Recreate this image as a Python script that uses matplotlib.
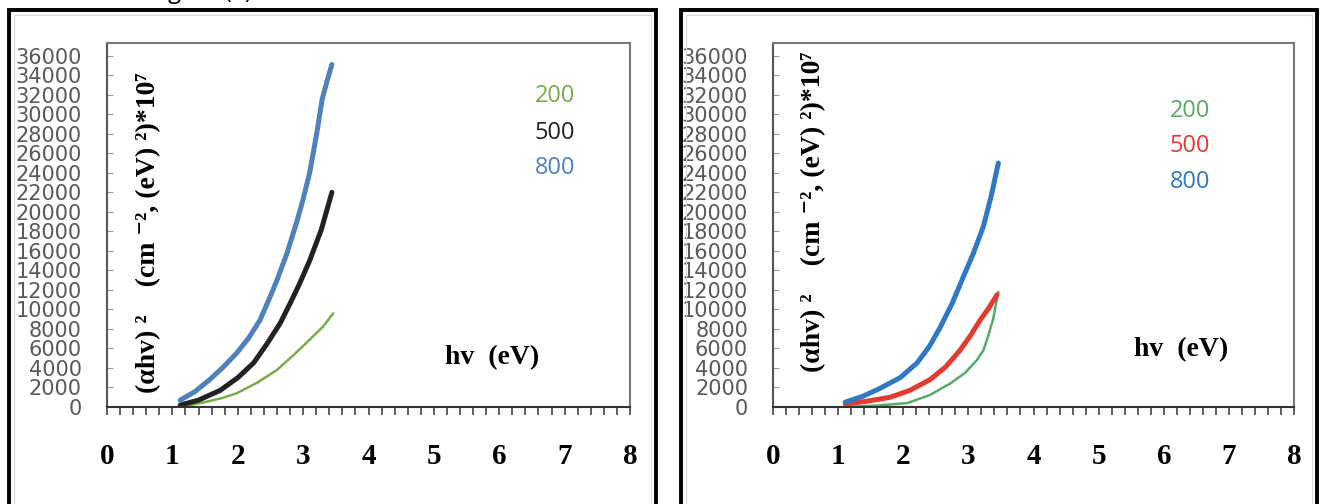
import numpy as np
import matplotlib.pyplot as plt
from matplotlib.patches import Rectangle
from matplotlib.ticker import MultipleLocator

# panel (a)
xa_800 = [1.12, 1.35, 1.57, 1.78, 1.98, 2.17, 2.34, 2.47, 2.60, 2.75, 2.90, 3.00, 3.10, 3.21, 3.29, 3.37, 3.44]
ya_800 = [700, 1600, 2800, 4100, 5500, 7100, 8900, 10900, 13000, 15700, 18900, 21300, 24000, 28100, 31500, 33500, 35100]
xa_500 = [1.12, 1.40, 1.73, 2.00, 2.24, 2.45, 2.65, 2.80, 2.95, 3.10, 3.28, 3.44]
ya_500 = [200, 700, 1700, 3000, 4500, 6500, 8600, 10600, 12700, 15000, 18200, 22000]
xa_200 = [1.12, 1.50, 1.75, 1.98, 2.30, 2.60, 2.85, 3.10, 3.30, 3.46]
ya_200 = [0, 500, 900, 1400, 2500, 3800, 5300, 6900, 8200, 9600]

# panel (b)
xb_800 = [1.11, 1.38, 1.64, 1.95, 2.21, 2.40, 2.57, 2.75, 2.92, 3.08, 3.23, 3.35, 3.46]
yb_800 = [500, 1100, 1900, 3000, 4500, 6200, 8200, 10600, 13300, 15800, 18500, 21600, 25000]
xb_500 = [1.11, 1.45, 1.80, 2.10, 2.41, 2.65, 2.87, 3.03, 3.18, 3.32, 3.44]
yb_500 = [300, 600, 1000, 1700, 2800, 4100, 5800, 7300, 8900, 10200, 11500]
xb_200 = [1.11, 1.60, 2.06, 2.40, 2.72, 2.95, 3.13, 3.23, 3.30, 3.38, 3.46]
yb_200 = [0, 150, 400, 1200, 2400, 3500, 4800, 5800, 7200, 9000, 11800]

labels = ['200', '500', '800']
col_a = ['#7aab4c', '#222222', '#4f81bd']
col_b = ['#5aa86a', '#e33a30', '#2f78c4']

serif = ['Liberation Serif', 'DejaVu Serif']
ylab = '(\u03b1hv) \u00b2    (cm \u207b\u00b2, (eV) \u00b2)*10\u2077'

fig = plt.figure(figsize=(13.22, 5.04), dpi=100)
W, H = 1322, 504

# outer frames
for x0, x1 in [(9, 656), (681, 1317)]:
    fig.patches.append(Rectangle((x0 / W, -0.05), (x1 - x0) / W, 1.05 - 9.5 / H,
                                 transform=fig.transFigure, fill=False,
                                 lw=2.8, ec='black'))
    fig.patches.append(Rectangle(((x0 + 5) / W, -0.05), (x1 - x0 - 10) / W, 1.05 - 15 / H,
                                 transform=fig.transFigure, fill=False,
                                 lw=0.8, ec='#d8d8d8'))

# caption above the chart, mostly cut off by the top edge
fig.text(150 / W, 1 + 2 / H, 'Figure (a)', fontsize=17, family='Open Sans',
         va='baseline', ha='left')

panels = [
    (107, 630, [(xa_200, ya_200, 1.8), (xa_500, ya_500, 3.6), (xa_800, ya_800, 3.6)],
     col_a, 149, 233, (555, [96, 133, 168]), (492, 358)),
    (773, 1294, [(xb_200, yb_200, 1.8), (xb_500, yb_500, 3.6), (xb_800, yb_800, 3.6)],
     col_b, 814, 212, (1190, [111, 146, 182]), (1181, 350)),
]

for xl, xr, series, cols, lx, ly, (tx, tys), (hx, hy) in panels:
    ax = fig.add_axes([xl / W, (H - 407) / H, (xr - xl) / W, (407 - 43) / H])
    for (x, y, lw), c in zip(series, cols):
        ax.plot(x, y, color=c, lw=lw, solid_capstyle='round', solid_joinstyle='round')
    ax.set_xlim(0, 8)
    ax.set_ylim(0, 37300)
    ax.xaxis.set_major_locator(MultipleLocator(1))
    ax.xaxis.set_minor_locator(MultipleLocator(0.2))
    ax.set_yticks(np.arange(0, 36001, 2000))
    ax.tick_params(axis='y', direction='in', length=4, width=0.8, color='#999999',
                   labelsize=15, labelcolor='#595959', pad=18)
    ax.tick_params(axis='x', which='both', direction='out', length=6, width=1.2,
                   color='#444444', pad=20)
    for lab in ax.get_xticklabels():
        lab.set_family(serif)
        lab.set_fontweight('bold')
        lab.set_fontsize(21)
    for s in ax.spines.values():
        s.set_color('#777777')
        s.set_linewidth(1.5)
    ax.spines['bottom'].set_color('#333333')
    ax.spines['left'].set_color('#555555')

    fig.text(lx / W, (H - ly) / H, ylab, rotation=90, family=serif,
             fontweight='bold', fontsize=20, ha='center', va='center')
    for t, ty, c in zip(labels, tys, cols):
        fig.text(tx / W, (H - ty) / H, t, family='Open Sans', fontsize=17,
                 color=c, ha='center', va='center')
    fig.text(hx / W, (H - hy) / H, 'hv  (eV)', family=serif, fontweight='bold',
             fontsize=20, ha='center', va='center')

fig.savefig('out.png', dpi=100)
